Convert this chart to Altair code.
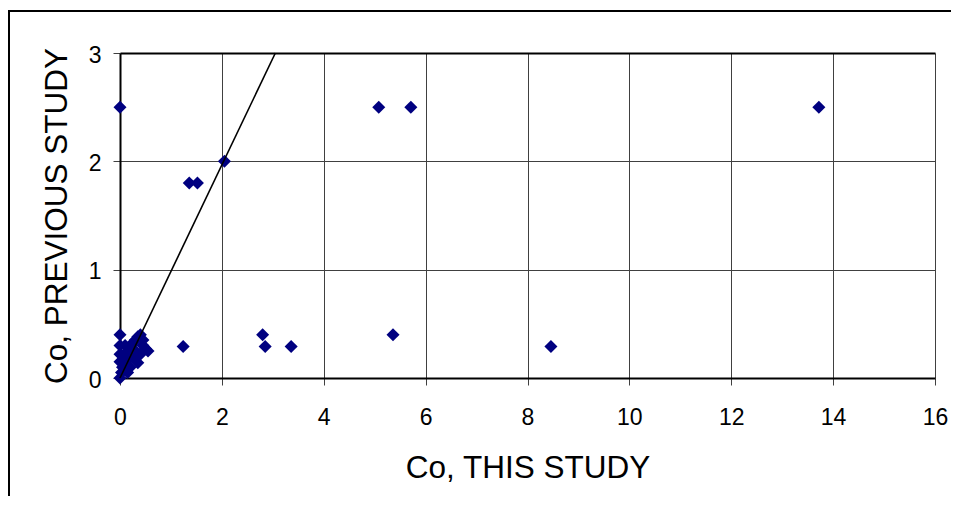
import altair as alt
import pandas as pd

# Data
this_study = [0.0, 5.08, 5.71, 13.72, 2.05, 1.36, 1.52,
              1.24, 2.80, 2.85, 3.36, 5.36, 8.46,
              0.0, 0.0, 0.0, 0.0, 0.0, 0.03, 0.05, 0.08, 0.10, 0.12,
              0.15, 0.20, 0.25, 0.30, 0.35, 0.40, 0.30, 0.35, 0.45,
              0.50, 0.55, 0.40, 0.20, 0.10, 0.45, 0.15, 0.25]
previous_study = [2.5, 2.5, 2.5, 2.5, 2.0, 1.8, 1.8,
                  0.29, 0.40, 0.29, 0.29, 0.40, 0.29,
                  0.40, 0.30, 0.22, 0.15, 0.0, 0.05, 0.10, 0.12, 0.20, 0.15,
                  0.25, 0.30, 0.20, 0.35, 0.38, 0.40, 0.25, 0.14, 0.30,
                  0.27, 0.25, 0.22, 0.10, 0.30, 0.35, 0.05, 0.32]

line_this = [0, 3.05]
line_prev = [0, 3]

x_ticks = [0, 2, 4, 6, 8, 10, 12, 14, 16]
y_ticks = [0, 1, 2, 3]

W, H = 815, 325
FONT = "Liberation Sans"

pts = pd.DataFrame({"this": this_study, "prev": previous_study})
ln = pd.DataFrame({"this": line_this, "prev": line_prev})
one = pd.DataFrame({"k": [0]})

xscale = alt.Scale(domain=[0, 16], nice=False, zero=True)
yscale = alt.Scale(domain=[0, 3], nice=False, zero=True)

xaxis = alt.Axis(
    values=x_ticks, title="Co, THIS STUDY", labelFlush=False, labelOverlap=False,
    tickSize=7, labelPadding=21, labelFontSize=23, labelFont=FONT, labelColor="black",
    titleFontSize=31.5, titleFont=FONT, titleFontWeight="normal", titleColor="black",
    titleBaseline="alphabetic", titleY=99,
    grid=True, gridColor="#404040", gridWidth=1,
    domainColor="black", domainWidth=2, tickColor="#404040", tickWidth=1,
)
yaxis = alt.Axis(
    values=y_ticks, title="Co, PREVIOUS STUDY", labelFlush=False, labelOverlap=False,
    tickSize=7, labelPadding=12, labelFontSize=23, labelFont=FONT, labelColor="black",
    labelOffset=2,
    titleFontSize=31.5, titleFont=FONT, titleFontWeight="normal", titleColor="black",
    titleBaseline="alphabetic", titleX=-54,
    grid=True,
    gridColor={"condition": {"test": "datum.value === 3", "value": "black"}, "value": "#404040"},
    gridWidth={"condition": {"test": "datum.value === 3", "value": 2}, "value": 1},
    domainColor="black", domainWidth=2, tickColor="#404040", tickWidth=1,
)

x_enc = alt.X("this:Q", scale=xscale, axis=xaxis)
y_enc = alt.Y("prev:Q", scale=yscale, axis=yaxis)

# Outer chart-area frame (extends past the right and bottom edges, as in the reference)
frame = alt.Chart(one).mark_rect(fill=None, stroke="black", strokeWidth=2).encode(
    x=alt.value(-111), x2=alt.value(W + 60), y=alt.value(-42), y2=alt.value(500)
)

points = alt.Chart(pts).mark_point(
    shape="diamond", filled=True, size=170, color="#000080", opacity=1
).encode(x=x_enc, y=y_enc)

line = alt.Chart(ln).mark_line(color="black", strokeWidth=1.6).encode(
    x=x_enc, y=y_enc
)

chart = alt.layer(frame, points, line).properties(
    width=W, height=H,
    autosize=alt.AutoSizeParams(type="none"),
    padding={"left": 112, "top": 45, "right": 16, "bottom": 118},
    background="white",
).configure_view(stroke=None)

chart.save("out.html", embed_options={"renderer": "svg", "actions": False})
